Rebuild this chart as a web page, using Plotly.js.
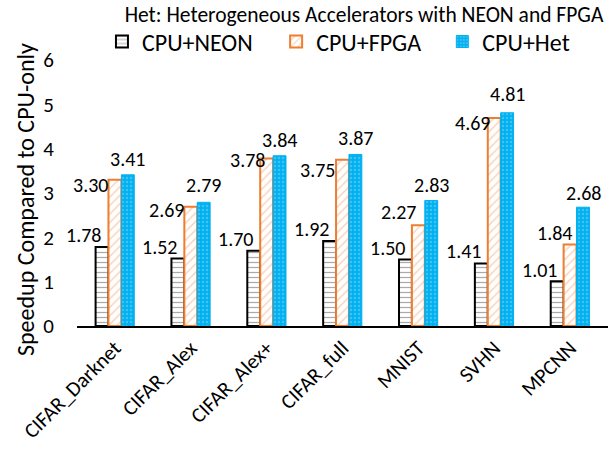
<!DOCTYPE html>
<html>
<head>
<meta charset="utf-8">
<script src="https://cdn.plot.ly/plotly-3.0.1.min.js"></script>
<style>html,body{margin:0;padding:0;background:#fff;}#chart{width:608px;height:455px;}</style>
</head>
<body>
<div id="chart"></div>
<script>
var categories = ["CIFAR_Darknet", "CIFAR_Alex", "CIFAR_Alex+", "CIFAR_full", "MNIST", "SVHN", "MPCNN"];
var seriesNames = ["CPU+NEON", "CPU+FPGA", "CPU+Het"];
var neon = [1.78, 1.52, 1.70, 1.92, 1.50, 1.41, 1.01];
var fpga = [3.30, 2.69, 3.78, 3.75, 2.27, 4.69, 1.84];
var het  = [3.41, 2.79, 3.84, 3.87, 2.83, 4.81, 2.68];
var yTicks = [0, 1, 2, 3, 4, 5, 6];
var yTitle = "Speedup Compared to CPU-only";
var chartTitle = "Het: Heterogeneous Accelerators with NEON and FPGA";

var FONT = "Carlito, Lato, 'Open Sans', sans-serif";

var styles = [
  {color: "#ffffff", line: {color: "#000000", width: 2}, pattern: {shape: "-", fgcolor: "#555555", bgcolor: "#ffffff", size: 5, solidity: 0.25, fillmode: "overlay"}},
  {color: "#ffffff", line: {color: "#ED7D31", width: 2}, pattern: {shape: "/", fgcolor: "#F4A77A", bgcolor: "#ffffff", size: 6, solidity: 0.25, fillmode: "overlay"}},
  {color: "#00B0F0", line: {color: "#00B0F0", width: 1}, pattern: {shape: ".", fgcolor: "#7FD3F5", bgcolor: "#00B0F0", size: 4, solidity: 0.3, fillmode: "overlay"}}
];
var allValues = [neon, fpga, het];
// label placement nudges (px), per series and category, as in the reference's hand-placed labels
var labelDX = [
  [-31, -31, -31, -31, -31, -31, -31],
  [-24, -24, -19, -25, -20, -22, -16],
  [13, 13, 13, 13, 13, 13, 13]
];
var labelDY = [
  [12, 12, 12, 12, 12, 12, 11],
  [-5, -3, -2, -10, 13, -5, 11],
  [16, 17, 16, 16, 16, 19, 14]
];
var legendIds = ["legend", "legend2", "legend3"];
var legendX = [0.047, 0.375, 0.688];

var traces = allValues.map(function (vals, s) {
  return {
    type: "bar",
    name: seriesNames[s],
    legend: legendIds[s],
    x: categories,
    y: vals,
    marker: styles[s],
    hoverinfo: "none"
  };
});

var annotations = [];
allValues.forEach(function (vals, s) {
  vals.forEach(function (v, i) {
    annotations.push({
      x: categories[i], y: v, xref: "x", yref: "y",
      text: v.toFixed(2), showarrow: false,
      xanchor: "center", yanchor: "middle",
      xshift: labelDX[s][i], yshift: labelDY[s][i],
      font: {family: FONT, size: 20, color: "#000"}
    });
  });
});
annotations.push({
  text: yTitle, xref: "paper", yref: "paper", x: -0.098, y: 0.477,
  xanchor: "center", yanchor: "middle", textangle: -90, showarrow: false,
  font: {family: FONT, size: 24, color: "#000"}
});

var layout = {
  width: 608, height: 455,
  margin: {l: 77, r: 0, t: 60, b: 129, pad: 0},
  paper_bgcolor: "#ffffff", plot_bgcolor: "#ffffff",
  font: {family: FONT, size: 21, color: "#000"},
  title: {text: chartTitle, xref: "container", x: 0.5987, xanchor: "center", yref: "container", y: 0.969, yanchor: "middle", font: {family: FONT, size: 21.5, color: "#000"}},
  barmode: "group", bargap: 0.49, bargroupgap: 0,
  showlegend: true,
  xaxis: {
    type: "category", range: [-0.5, 6.5],
    showline: true, linecolor: "#000", linewidth: 1.5,
    ticks: "", tickangle: -45, tickfont: {family: FONT, size: 21},
    showgrid: false, zeroline: false, fixedrange: true
  },
  yaxis: {
    range: [0, 6], tickvals: yTicks, ticktext: yTicks.map(String),
    showline: false, showgrid: false, zeroline: false, ticks: "",
    ticklabelstandoff: 22,
    tickfont: {family: FONT, size: 21},
    fixedrange: true
  },
  annotations: annotations
};
legendIds.forEach(function (id, s) {
  layout[id] = {orientation: "h", x: legendX[s], xanchor: "left", y: 1.068, yanchor: "middle",
    font: {family: FONT, size: 24}, bgcolor: "rgba(0,0,0,0)"};
});

Plotly.newPlot("chart", traces, layout, {displayModeBar: false, staticPlot: true});
</script>
</body>
</html>
